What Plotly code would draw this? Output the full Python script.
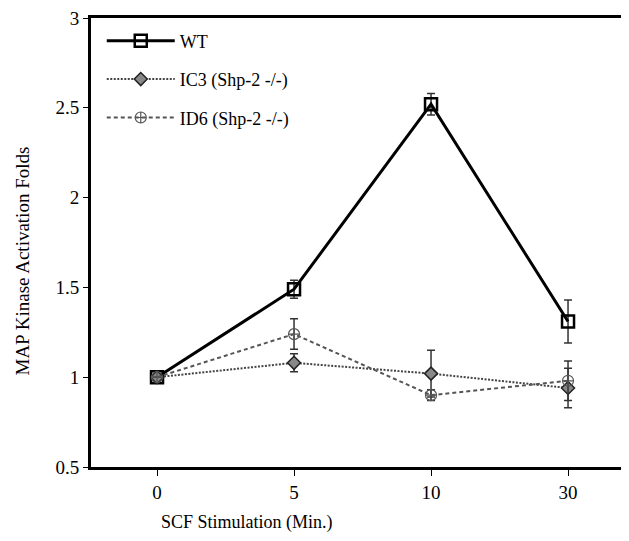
import plotly.graph_objects as go

categories = ["0", "5", "10", "30"]
wt_values = [1.0, 1.49, 2.52, 1.31]
wt_err = [0.0, 0.05, 0.06, 0.12]
ic3_values = [1.0, 1.08, 1.02, 0.94]
ic3_err = [0.0, 0.05, 0.13, 0.11]
id6_values = [1.0, 1.24, 0.90, 0.98]
id6_err = [0.0, 0.085, 0.03, 0.11]
y_ticks = [0.5, 1, 1.5, 2, 2.5, 3]
y_ticklabels = ["0.5", "1", "1.5", "2", "2.5", "3"]

FONT = "Liberation Serif"

fig = go.Figure()

fig.add_trace(go.Scatter(
    x=categories, y=wt_values, name="WT", legendgroup="a",
    mode="lines+markers",
    line=dict(color="black", width=3),
    marker=dict(symbol="square-open", size=12, color="black", line=dict(width=2.5)),
    error_y=dict(type="data", array=wt_err, color="#333", thickness=1.5, width=4),
))
fig.add_trace(go.Scatter(
    x=categories, y=ic3_values, name="IC3 (Shp-2 -/-)", legendgroup="b",
    mode="lines+markers",
    line=dict(color="#444", width=2, dash="2px,1.5px"),
    marker=dict(symbol="diamond", size=10, color="#888", line=dict(color="#222", width=1.5)),
    error_y=dict(type="data", array=ic3_err, color="#333", thickness=1.5, width=4),
))
fig.add_trace(go.Scatter(
    x=categories, y=id6_values, name="ID6 (Shp-2 -/-)", legendgroup="c",
    mode="lines+markers",
    line=dict(color="#555", width=2, dash="4px,3px"),
    marker=dict(symbol="circle-cross-open", size=11, color="#555", line=dict(width=1.2)),
    error_y=dict(type="data", array=id6_err, color="#333", thickness=1.5, width=4),
))

fig.update_layout(
    width=621, height=533,
    margin=dict(l=83, r=0, t=7, b=74),
    paper_bgcolor="white", plot_bgcolor="white",
    font=dict(family=FONT, size=18, color="black"),
    showlegend=True,
    legend=dict(
        x=0.02, y=0.99, xanchor="left", yanchor="top",
        bgcolor="rgba(0,0,0,0)", font=dict(family=FONT, size=18),
        tracegroupgap=12, itemwidth=68,
    ),
    xaxis=dict(
        type="category", range=[-0.482, 3.445],
        showline=True, linecolor="black", linewidth=3, mirror=True,
        ticks="outside", ticklen=6, tickwidth=1, tickcolor="black",
        showgrid=False, zeroline=False,
        tickfont=dict(family=FONT, size=19),
    ),
    yaxis=dict(
        range=[0.5, 3], tickvals=y_ticks, ticktext=y_ticklabels,
        showline=True, linecolor="black", linewidth=3, mirror=False,
        ticks="outside", ticklen=5, tickwidth=1, tickcolor="black",
        showgrid=False, zeroline=False, ticklabeloverflow="allow",
        tickfont=dict(family=FONT, size=19),
    ),
    annotations=[
        dict(
            text="SCF Stimulation (Min.)", xref="paper", yref="paper",
            x=0.29, y=-0.124, xanchor="center", yanchor="middle",
            showarrow=False, font=dict(family=FONT, size=18),
        ),
        dict(
            text="MAP Kinase Activation Folds", xref="paper", yref="paper",
            x=-0.128, y=0.458, xanchor="center", yanchor="middle", textangle=-90,
            showarrow=False, font=dict(family=FONT, size=19),
        ),
    ],
)

fig.write_html("out.html")
